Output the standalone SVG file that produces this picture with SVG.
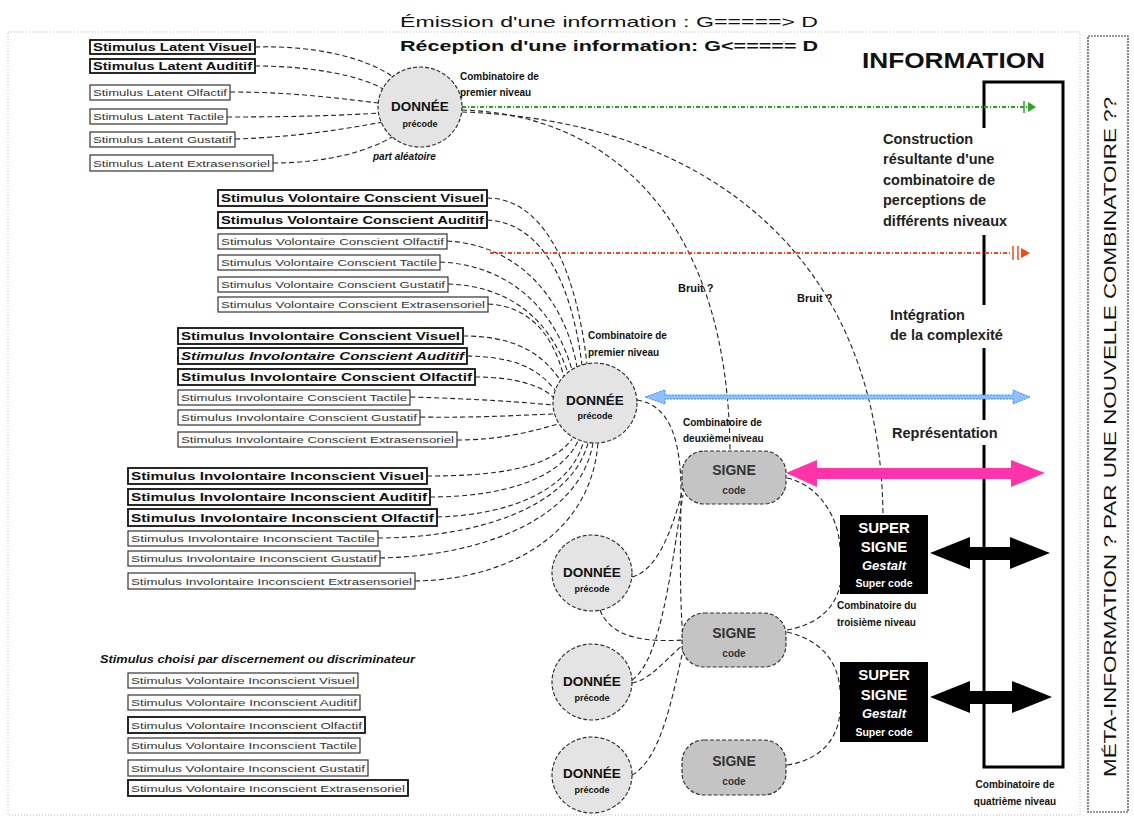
<svg xmlns="http://www.w3.org/2000/svg" width="1134" height="819" viewBox="0 0 1134 819">
<style>
text{font-family:"Liberation Sans",Arial,sans-serif;fill:#111}
.bx{fill:#fff;stroke:#333;stroke-width:1.2}
.bxb{fill:#fff;stroke:#111;stroke-width:1.8}
.sb{font-size:11px;font-weight:bold}
.sn{font-size:9.5px;fill:#333}
.con{fill:none;stroke:#222;stroke-width:1.1;stroke-dasharray:5,3}
.don{fill:#e4e4e4;stroke:#333;stroke-width:1.2;stroke-dasharray:4,2}
.sig{fill:#c4c4c4;stroke:#333;stroke-width:1.2;stroke-dasharray:4,2}
.dt{font-size:13.5px;font-weight:bold;text-anchor:middle}
.dp{font-size:9px;font-weight:bold;text-anchor:middle}
.st{font-size:14px;font-weight:bold;text-anchor:middle;fill:#333}
.sc{font-size:10px;font-weight:bold;text-anchor:middle;fill:#333}
.sup{fill:#000}
.wt{fill:#fff;font-weight:bold;text-anchor:middle}
.lab{font-size:10px;font-weight:bold}
.rt{font-size:14.5px;font-weight:bold;fill:#222}
.frame{fill:none;stroke:#000;stroke-width:3}
</style>
<rect x="8" y="32" width="1072" height="783" fill="none" stroke="#bbb" stroke-width="1" stroke-dasharray="1,2"/>
<g id="header">
<text x="400" y="27" font-size="15" textLength="418" lengthAdjust="spacingAndGlyphs" fill="#333">Émission d'une information : G=====&gt; D</text>
<text x="400" y="51" font-size="15" font-weight="bold" textLength="418" lengthAdjust="spacingAndGlyphs">Réception d'une information: G&lt;===== D</text>
</g>
<g id="meta">
<rect x="1088" y="36" width="40" height="776" fill="#fff" stroke="#333" stroke-width="1.2" stroke-dasharray="2,1"/>
<text transform="translate(1116,437) rotate(-90)" font-size="16" text-anchor="middle" textLength="680" lengthAdjust="spacingAndGlyphs">MÉTA-INFORMATION ? PAR UNE NOUVELLE COMBINATOIRE ??</text>
</g>
<g id="information">
<text x="862" y="68" font-size="22" font-weight="bold" textLength="183" lengthAdjust="spacingAndGlyphs">INFORMATION</text>
<path class="frame" d="M984,128 V82 H1063 V767 H984 V445 M984,420 V348 M984,305 V235"/>
<text class="rt" x="883" y="144">Construction</text>
<text class="rt" x="883" y="164">résultante d'une</text>
<text class="rt" x="883" y="185">combinatoire de</text>
<text class="rt" x="883" y="205">perceptions de</text>
<text class="rt" x="883" y="226">différents niveaux</text>
<text class="rt" x="890" y="320">Intégration</text>
<text class="rt" x="890" y="340">de la complexité</text>
<text class="rt" x="892" y="438">Représentation</text>
</g>
<g id="stimuli-latent">
<rect class="bxb" x="90" y="40" width="165" height="14"/><text class="sb" x="93" y="51" textLength="159" lengthAdjust="spacingAndGlyphs">Stimulus Latent Visuel</text>
<rect class="bxb" x="90" y="59" width="165" height="14"/><text class="sb" x="93" y="70" textLength="159" lengthAdjust="spacingAndGlyphs">Stimulus Latent Auditif</text>
<rect class="bx" x="90" y="85" width="140" height="15"/><text class="sn" x="93" y="96" textLength="134" lengthAdjust="spacingAndGlyphs">Stimulus Latent Olfactif</text>
<rect class="bx" x="90" y="109" width="137" height="15"/><text class="sn" x="93" y="120" textLength="131" lengthAdjust="spacingAndGlyphs">Stimulus Latent Tactile</text>
<rect class="bx" x="90" y="132" width="145" height="15"/><text class="sn" x="93" y="143" textLength="139" lengthAdjust="spacingAndGlyphs">Stimulus Latent Gustatif</text>
<rect class="bx" x="90" y="155" width="183" height="16"/><text class="sn" x="93" y="167" textLength="177" lengthAdjust="spacingAndGlyphs">Stimulus Latent Extrasensoriel</text>
</g>
<g id="stimuli-volontaire-conscient">
<rect class="bxb" x="218" y="190" width="269" height="16"/><text class="sb" x="221" y="202" textLength="263" lengthAdjust="spacingAndGlyphs">Stimulus Volontaire Conscient Visuel</text>
<rect class="bxb" x="218" y="212" width="269" height="16"/><text class="sb" x="221" y="224" textLength="263" lengthAdjust="spacingAndGlyphs">Stimulus Volontaire Conscient Auditif</text>
<rect class="bx" x="218" y="234" width="229" height="15"/><text class="sn" x="221" y="245" textLength="223" lengthAdjust="spacingAndGlyphs">Stimulus Volontaire Conscient Olfactif</text>
<rect class="bx" x="218" y="255" width="222" height="15"/><text class="sn" x="221" y="266" textLength="216" lengthAdjust="spacingAndGlyphs">Stimulus Volontaire Conscient Tactile</text>
<rect class="bx" x="218" y="277" width="230" height="15"/><text class="sn" x="221" y="288" textLength="224" lengthAdjust="spacingAndGlyphs">Stimulus Volontaire Conscient Gustatif</text>
<rect class="bx" x="218" y="297" width="270" height="15"/><text class="sn" x="221" y="308" textLength="264" lengthAdjust="spacingAndGlyphs">Stimulus Volontaire Conscient Extrasensoriel</text>
</g>
<g id="stimuli-involontaire-conscient">
<rect class="bxb" x="178" y="328" width="285" height="16"/><text class="sb" x="181" y="340" textLength="279" lengthAdjust="spacingAndGlyphs">Stimulus Involontaire Conscient Visuel</text>
<rect class="bxb" x="178" y="348" width="289" height="16"/><text class="sb" x="181" y="360" font-style="italic" textLength="283" lengthAdjust="spacingAndGlyphs">Stimulus Involontaire Conscient Auditif</text>
<rect class="bxb" x="178" y="369" width="297" height="16"/><text class="sb" x="181" y="381" textLength="291" lengthAdjust="spacingAndGlyphs">Stimulus Involontaire Conscient Olfactif</text>
<rect class="bx" x="178" y="390" width="232" height="15"/><text class="sn" x="181" y="401" textLength="226" lengthAdjust="spacingAndGlyphs">Stimulus Involontaire Conscient Tactile</text>
<rect class="bx" x="178" y="410" width="242" height="15"/><text class="sn" x="181" y="421" textLength="236" lengthAdjust="spacingAndGlyphs">Stimulus Involontaire Conscient Gustatif</text>
<rect class="bx" x="178" y="432" width="279" height="15"/><text class="sn" x="181" y="443" textLength="273" lengthAdjust="spacingAndGlyphs">Stimulus Involontaire Conscient Extrasensoriel</text>
</g>
<g id="stimuli-involontaire-inconscient">
<rect class="bxb" x="128" y="468" width="299" height="16"/><text class="sb" x="131" y="480" textLength="293" lengthAdjust="spacingAndGlyphs">Stimulus Involontaire Inconscient Visuel</text>
<rect class="bxb" x="128" y="489" width="302" height="16"/><text class="sb" x="131" y="501" textLength="296" lengthAdjust="spacingAndGlyphs">Stimulus Involontaire Inconscient Auditif</text>
<rect class="bxb" x="128" y="509" width="309" height="17"/><text class="sb" x="131" y="522" textLength="303" lengthAdjust="spacingAndGlyphs">Stimulus Involontaire Inconscient Olfactif</text>
<rect class="bx" x="128" y="531" width="250" height="15"/><text class="sn" x="131" y="542" textLength="244" lengthAdjust="spacingAndGlyphs">Stimulus Involontaire Inconscient Tactile</text>
<rect class="bx" x="128" y="551" width="252" height="15"/><text class="sn" x="131" y="562" textLength="246" lengthAdjust="spacingAndGlyphs">Stimulus Involontaire Inconscient Gustatif</text>
<rect class="bx" x="128" y="573" width="287" height="16"/><text class="sn" x="131" y="585" textLength="281" lengthAdjust="spacingAndGlyphs">Stimulus Involontaire Inconscient Extrasensoriel</text>
</g>
<g id="stimuli-volontaire-inconscient">
<text x="100" y="663" font-size="11" font-style="italic" font-weight="bold" textLength="315" lengthAdjust="spacingAndGlyphs" fill="#333">Stimulus choisi par discernement ou discriminateur</text>
<rect class="bx" x="128" y="673" width="230" height="15"/><text class="sn" x="131" y="684" textLength="224" lengthAdjust="spacingAndGlyphs">Stimulus Volontaire Inconscient Visuel</text>
<rect class="bx" x="128" y="695" width="232" height="15"/><text class="sn" x="131" y="706" textLength="226" lengthAdjust="spacingAndGlyphs">Stimulus Volontaire Inconscient Auditif</text>
<rect class="bxb" x="128" y="717" width="237" height="16"/><text class="sn" x="131" y="729" textLength="231" lengthAdjust="spacingAndGlyphs">Stimulus Volontaire Inconscient Olfactif</text>
<rect class="bx" x="128" y="738" width="232" height="15"/><text class="sn" x="131" y="749" textLength="226" lengthAdjust="spacingAndGlyphs">Stimulus Volontaire Inconscient Tactile</text>
<rect class="bx" x="128" y="760" width="240" height="16"/><text class="sn" x="131" y="772" textLength="234" lengthAdjust="spacingAndGlyphs">Stimulus Volontaire Inconscient Gustatif</text>
<rect class="bxb" x="128" y="780" width="280" height="16"/><text class="sn" x="131" y="792" textLength="274" lengthAdjust="spacingAndGlyphs">Stimulus Volontaire Inconscient Extrasensoriel</text>
</g>
<g id="connectors">
<path class="con" d="M255,47 C320,45 370,60 393,77"/>
<path class="con" d="M255,66 C310,66 360,75 385,90"/>
<path class="con" d="M230,92 C300,92 350,100 379,103"/>
<path class="con" d="M227,117 C300,117 350,115 379,113"/>
<path class="con" d="M235,139 C300,137 350,128 383,122"/>
<path class="con" d="M273,163 C330,163 370,150 392,137"/>
<path class="con" d="M487,198 C540,198 575,260 587,364"/>
<path class="con" d="M487,220 C535,222 570,270 582,365"/>
<path class="con" d="M447,241 C520,245 565,300 577,367"/>
<path class="con" d="M440,262 C510,265 555,310 572,370"/>
<path class="con" d="M448,284 C510,286 550,320 568,373"/>
<path class="con" d="M488,304 C530,306 553,335 564,377"/>
<path class="con" d="M463,336 C510,336 540,350 560,380"/>
<path class="con" d="M467,356 C510,357 535,365 555,390"/>
<path class="con" d="M475,377 C515,377 540,385 553,397"/>
<path class="con" d="M410,397 C480,399 520,402 553,405"/>
<path class="con" d="M420,417 C480,418 520,415 554,414"/>
<path class="con" d="M457,440 C500,440 530,432 558,424"/>
<path class="con" d="M427,476 C490,476 550,470 572,439"/>
<path class="con" d="M430,497 C500,497 560,480 578,441"/>
<path class="con" d="M437,517 C510,515 570,490 583,443"/>
<path class="con" d="M378,538 C470,538 570,510 588,443"/>
<path class="con" d="M380,558 C480,556 580,520 593,443"/>
<path class="con" d="M415,581 C500,580 590,540 598,443"/>
<path class="con" d="M462,110 C620,115 728,230 730,450"/>
<path class="con" d="M462,112 C700,120 880,250 883,515"/>
<path class="con" d="M637,400 C670,405 682,440 681,500 C680,560 680,600 683,640"/>
<path class="con" d="M632,577 C660,570 675,520 684,485"/>
<path class="con" d="M600,610 C612,640 650,642 683,640"/>
<path class="con" d="M632,683 C650,680 665,660 683,645"/>
<path class="con" d="M632,680 C662,660 672,560 683,495"/>
<path class="con" d="M632,775 C660,760 672,700 683,650"/>
<path class="con" d="M787,478 C820,485 840,520 840,550"/>
<path class="con" d="M787,630 C815,625 835,610 840,585"/>
<path class="con" d="M787,632 C820,640 838,660 840,690"/>
<path class="con" d="M787,765 C820,760 838,740 840,712"/>
<path d="M462,107 H1028" fill="none" stroke="#22aa22" stroke-width="2" stroke-dasharray="4,2,1,2"/>
<path d="M1024,101 V113" stroke="#22aa22" stroke-width="1.5"/>
<polygon points="1028,102 1036,107 1028,112" fill="#22aa22"/>
<path d="M490,253 H1010" fill="none" stroke="#ff4411" stroke-width="2" stroke-dasharray="4,2,1,2"/>
<path d="M1013,246 V260 M1018,246 V260" stroke="#ff4411" stroke-width="1.5"/>
<polygon points="1021,248 1030,253 1021,258" fill="#ff4411"/>
<polygon points="645,397 665,390 665,395 1013,395 1013,390 1030,397 1013,404 1013,399 665,399 665,404" fill="#8ec0ff" stroke="#3b8cff" stroke-width="1" stroke-dasharray="2,1"/>
<polygon points="786,473 817,460 817,468 1011,468 1011,460 1045,473 1011,487 1011,479 817,479 817,487" fill="#ff33aa"/>
<polygon points="930,553 970,537 970,547 1010,547 1010,537 1050,553 1010,569 1010,560 970,560 970,569" fill="#000"/>
<polygon points="930,697 970,681 970,691 1012,691 1012,681 1052,697 1012,713 1012,704 970,704 970,713" fill="#000"/>
</g>
<g id="donnee-top">
<ellipse class="don" cx="420" cy="107" rx="42" ry="40"/>
<text class="dt" x="420" y="111">DONNÉE</text>
<text class="dp" x="420" y="127">précode</text>
<text x="373" y="160" font-size="10" font-style="italic" font-weight="bold">part aléatoire</text>
<text class="lab" x="460" y="80">Combinatoire de</text>
<text class="lab" x="460" y="96">premier niveau</text>
</g>
<g id="donnee-mid">
<ellipse class="don" cx="595" cy="403" rx="42" ry="40"/>
<text class="dt" x="595" y="405">DONNÉE</text>
<text class="dp" x="595" y="419">précode</text>
<text class="lab" x="588" y="339">Combinatoire de</text>
<text class="lab" x="588" y="356">premier niveau</text>
</g>
<g id="donnee-1">
<ellipse class="don" cx="592" cy="573" rx="40" ry="38"/>
<text class="dt" x="592" y="577">DONNÉE</text>
<text class="dp" x="592" y="592">précode</text>
</g>
<g id="donnee-2">
<ellipse class="don" cx="592" cy="682" rx="40" ry="38"/>
<text class="dt" x="592" y="686">DONNÉE</text>
<text class="dp" x="592" y="701">précode</text>
</g>
<g id="donnee-3">
<ellipse class="don" cx="592" cy="775" rx="40" ry="38"/>
<text class="dt" x="592" y="778">DONNÉE</text>
<text class="dp" x="592" y="793">précode</text>
</g>
<g id="signe-1">
<rect class="sig" x="682" y="451" width="104" height="53" rx="22"/>
<text class="st" x="734" y="475">SIGNE</text>
<text class="sc" x="734" y="494">code</text>
<text class="lab" x="683" y="426">Combinatoire de</text>
<text class="lab" x="683" y="442">deuxième niveau</text>
</g>
<g id="signe-2">
<rect class="sig" x="682" y="613" width="104" height="54" rx="22"/>
<text class="st" x="734" y="638">SIGNE</text>
<text class="sc" x="734" y="657">code</text>
</g>
<g id="signe-3">
<rect class="sig" x="682" y="740" width="104" height="55" rx="22"/>
<text class="st" x="734" y="766">SIGNE</text>
<text class="sc" x="734" y="785">code</text>
</g>
<g id="super-signe-1">
<rect class="sup" x="840" y="515" width="88" height="79"/>
<text class="wt" x="884" y="533" font-size="15">SUPER</text>
<text class="wt" x="884" y="552" font-size="15">SIGNE</text>
<text class="wt" x="884" y="570" font-size="13" font-style="italic">Gestalt</text>
<text class="wt" x="884" y="587" font-size="10.5">Super code</text>
<text class="lab" x="837" y="609">Combinatoire du</text>
<text class="lab" x="837" y="626">troisième niveau</text>
</g>
<g id="super-signe-2">
<rect class="sup" x="840" y="662" width="88" height="80"/>
<text class="wt" x="884" y="680" font-size="15">SUPER</text>
<text class="wt" x="884" y="700" font-size="15">SIGNE</text>
<text class="wt" x="884" y="718" font-size="13" font-style="italic">Gestalt</text>
<text class="wt" x="884" y="736" font-size="10.5">Super code</text>
</g>
<g id="bruit">
<text x="678" y="292" font-size="11" font-weight="bold">Bruit ?</text>
<text x="797" y="302" font-size="11" font-weight="bold">Bruit ?</text>
</g>
<g id="combinatoire-4">
<text class="lab" x="1015" y="788" text-anchor="middle">Combinatoire de</text>
<text class="lab" x="1015" y="805" text-anchor="middle">quatrième niveau</text>
</g>
</svg>
